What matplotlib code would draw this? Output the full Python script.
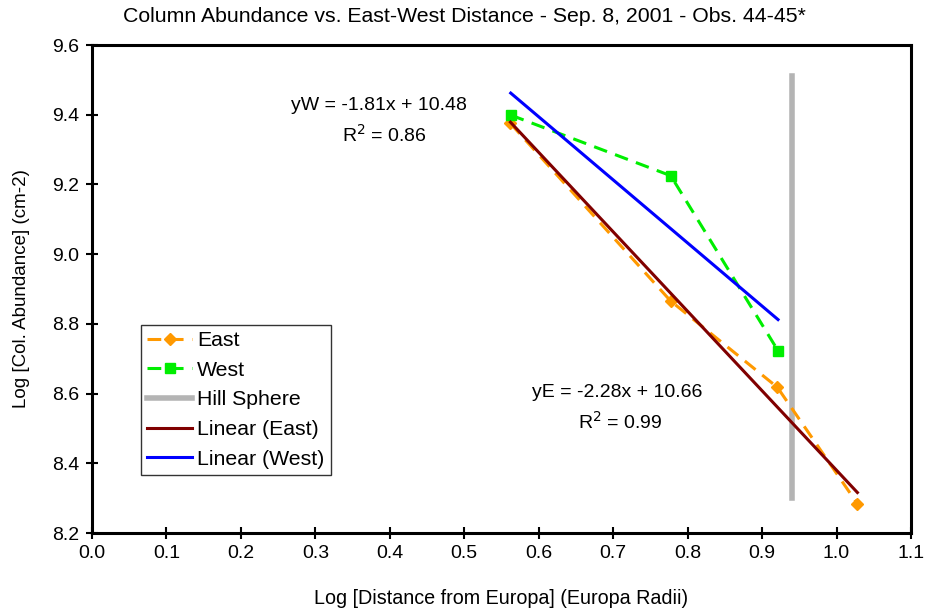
import matplotlib
matplotlib.use("Agg")
import matplotlib.pyplot as plt
import numpy as np

plt.rcParams['font.family'] = ['Liberation Sans', 'DejaVu Sans']

east_x = [0.562, 0.777, 0.9205, 1.028]
east_y = [9.375, 8.866, 8.618, 8.284]
west_x = [0.5624, 0.7773, 0.9214]
west_y = [9.399, 9.225, 8.723]
hill_x = [0.94, 0.94]
hill_y = [8.30, 9.51]

east_fit = (-2.28, 10.66)
west_fit = (-1.81, 10.48)

fig = plt.figure(figsize=(9.28, 6.13), dpi=100)
ax = fig.add_axes([92/928, 1 - 533/613, (911-92)/928, (533-45)/613])

ax.plot(east_x, east_y, color='#ff9900', lw=2.2, ls=(0, (4.5, 2.8)), marker='D', ms=6.5,
        label='East', zorder=3)
ax.plot(west_x, west_y, color='#00ee00', lw=2.2, ls=(0, (4.5, 2.8)), marker='s', ms=7,
        label='West', zorder=3)
ax.plot(hill_x, hill_y, color='#b4b4b4', lw=4, label='Hill Sphere', zorder=2)
ex = np.array([min(east_x), max(east_x)])
ax.plot(ex, east_fit[0]*ex + east_fit[1], color='#800000', lw=2.2, label='Linear (East)', zorder=4)
wx = np.array([min(west_x), max(west_x)])
ax.plot(wx, west_fit[0]*wx + west_fit[1], color='#0000ff', lw=2.2, label='Linear (West)', zorder=4)

ax.set_xlim(0, 1.1)
ax.set_ylim(8.2, 9.6)
ax.set_xticks(np.arange(0, 1.11, 0.1))
ax.set_xticklabels([f'{v:.1f}' for v in np.arange(0, 1.11, 0.1)])
ax.set_yticks(np.arange(8.2, 9.61, 0.2))
ax.set_yticklabels([f'{v:.1f}' for v in np.arange(8.2, 9.61, 0.2)])
ax.tick_params(direction='inout', length=8, width=1.5, labelsize=14, pad=5)
for s in ax.spines.values():
    s.set_linewidth(2.2)

ax.set_xlabel('Log [Distance from Europa] (Europa Radii)', fontsize=14.2, labelpad=19)
ax.set_ylabel('Log [Col. Abundance] (cm-2)', fontsize=13.5, labelpad=16)
fig.text(464/928, 1 - 16/613, 'Column Abundance vs. East-West Distance - Sep. 8, 2001 - Obs. 44-45*',
         ha='center', va='center', fontsize=15.3)

ax.text(0.385, 9.425, 'yW = -1.81x + 10.48', ha='center', va='center', fontsize=14)
ax.text(0.393, 9.342, 'R$^2$ = 0.86', ha='center', va='center', fontsize=14)
ax.text(0.706, 8.602, 'yE = -2.28x + 10.66', ha='center', va='center', fontsize=14)
ax.text(0.71, 8.518, 'R$^2$ = 0.99', ha='center', va='center', fontsize=14)

leg = ax.legend(loc='lower left', bbox_to_anchor=((141-92)/819, (533-475)/488),
                fontsize=15.3, frameon=True, fancybox=False, edgecolor='black',
                handlelength=2.1, borderpad=0.3, labelspacing=0.5, handletextpad=0.25,
                borderaxespad=0)
leg.get_frame().set_linewidth(1)

fig.savefig('out.png', dpi=100, facecolor='white')
